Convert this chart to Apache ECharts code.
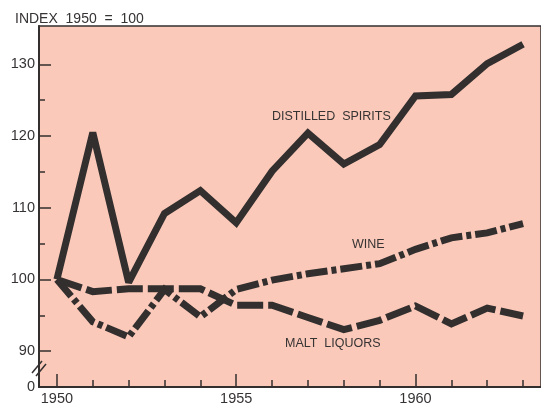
<!DOCTYPE html>
<html>
<head>
<meta charset="utf-8">
<script src="https://cdn.jsdelivr.net/npm/echarts@6/dist/echarts.min.js"></script>
<style>
  html, body { margin: 0; padding: 0; background: #ffffff; }
  #chart { width: 541px; height: 406px; }
</style>
</head>
<body>
<div id="chart"></div>
<script>
// index 1950 = 100
var years = ["1950", "1951", "1952", "1953", "1954", "1955", "1956",
             "1957", "1958", "1959", "1960", "1961", "1962", "1963"];
var distilledSpirits = [100, 120.5, 99.6, 109.2, 112.4, 107.9, 115.1,
                        120.4, 116.1, 118.8, 125.6, 125.8, 130.1, 132.8];
var wine = [100, 94.1, 92.0, 98.6, 94.8, 98.6, 99.9,
            100.8, 101.5, 102.2, 104.2, 105.8, 106.5, 107.8];
var maltLiquors = [100, 98.3, 98.7, 98.7, 98.7, 96.4, 96.4,
                   94.7, 93.0, 94.3, 96.3, 93.8, 96.0, 94.9];
var yMajorTicks = [90, 100, 110, 120, 130];
var yMinorTicks = [95, 105, 115, 125];
var yLabels = [85, 90, 100, 110, 120, 130];

var ink = "#342f2f";
var textColor = "#363333";
var font = "Liberation Sans";

var chart = echarts.init(document.getElementById("chart"));

function lineSeries(name, data, dash) {
  return {
    name: name,
    type: "line",
    data: data,
    symbol: "none",
    silent: true,
    lineStyle: {
      color: ink,
      width: 7,
      type: dash,
      cap: "butt",
      join: "miter",
      miterLimit: 2
    }
  };
}

chart.setOption({
  animation: false,
  backgroundColor: "#ffffff",
  title: {
    text: "INDEX  1950  =  100",
    left: 10,
    top: 7,
    textStyle: { color: textColor, fontFamily: font, fontSize: 14, fontWeight: "normal" }
  },
  grid: {
    left: 39,
    top: 26,
    width: 505,
    bottom: 19,
    show: true,
    backgroundColor: "#fac9b9",
    borderColor: ink,
    borderWidth: 1.5
  },
  xAxis: [
    {
      type: "category",
      data: years,
      position: "bottom",
      boundaryGap: true,
      axisLine: { lineStyle: { color: ink, width: 2 } },
      axisTick: { show: true, inside: true, alignWithLabel: true, interval: 0, length: 7,
                  lineStyle: { color: ink, width: 1.5 } },
      axisLabel: {
        interval: function (i, v) { return Number(v) % 5 === 0; },
        color: textColor, fontFamily: font, fontSize: 14.5, margin: 4
      },
      splitLine: { show: false }
    },
    {
      type: "category",
      data: years,
      position: "bottom",
      boundaryGap: true,
      axisLine: { show: false },
      axisTick: { show: true, inside: true, alignWithLabel: true, length: 13,
                  interval: function (i, v) { return Number(v) % 5 === 0; },
                  lineStyle: { color: ink, width: 1.5 } },
      axisLabel: { show: false },
      splitLine: { show: false }
    }
  ],
  yAxis: [
    {
      type: "value",
      position: "left",
      min: 85,
      max: 135.35,
      axisLine: { show: true, lineStyle: { color: ink, width: 2 } },
      axisTick: { show: true, inside: true, length: 12, customValues: yMajorTicks,
                  lineStyle: { color: ink, width: 1.5 } },
      axisLabel: {
        customValues: yLabels,
        formatter: function (v) { return v === 85 ? "0" : String(v); },
        color: textColor, fontFamily: font, fontSize: 14.5, margin: 4
      },
      splitLine: { show: false }
    },
    {
      type: "value",
      position: "left",
      min: 85,
      max: 135.35,
      axisLine: { show: false },
      axisTick: { show: true, inside: true, length: 6, customValues: yMinorTicks,
                  lineStyle: { color: ink, width: 1.5 } },
      axisLabel: { show: false },
      splitLine: { show: false }
    }
  ],
  series: [
    lineSeries("DISTILLED SPIRITS", distilledSpirits, "solid"),
    lineSeries("WINE", wine, [22, 4, 5, 4]),
    lineSeries("MALT LIQUORS", maltLiquors, [26, 5])
  ],
  graphic: [
    { type: "text", left: 272, top: 110,
      style: { text: "DISTILLED  SPIRITS", fill: textColor, font: "12.5px " + font } },
    { type: "text", left: 352, top: 238,
      style: { text: "WINE", fill: textColor, font: "12.5px " + font } },
    { type: "text", left: 285, top: 337,
      style: { text: "MALT  LIQUORS", fill: textColor, font: "12.5px " + font } },
    // axis break marks
    { type: "line", shape: { x1: 32, y1: 373, x2: 42, y2: 361 },
      style: { stroke: ink, lineWidth: 1.5 } },
    { type: "line", shape: { x1: 36, y1: 376, x2: 46, y2: 364 },
      style: { stroke: ink, lineWidth: 1.5 } }
  ]
});
</script>
</body>
</html>
